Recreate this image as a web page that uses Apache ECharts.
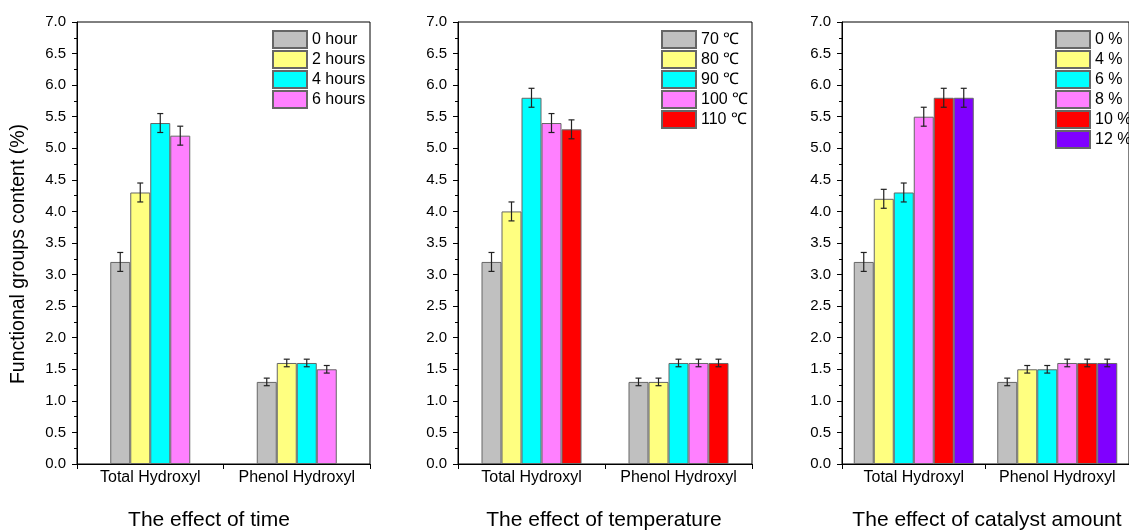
<!DOCTYPE html>
<html><head><meta charset="utf-8">
<script src="https://cdn.jsdelivr.net/npm/echarts@6/dist/echarts.min.js"></script>
<style>html,body{margin:0;padding:0;background:#fff}#c{width:1129px;height:531px}</style>
</head><body><div id="c"></div>
<script>
const categories = ['Total Hydroxyl', 'Phenol Hydroxyl'];
const yTicks = [0, 7, 0.5];

const timeNames = ['0 hour', '2 hours', '4 hours', '6 hours'];
const timeTotal = [3.2, 4.3, 5.4, 5.2];
const timePhenol = [1.3, 1.6, 1.6, 1.5];
const timeTotalErr = [0.15, 0.15, 0.15, 0.15];
const timePhenolErr = [0.06, 0.06, 0.06, 0.06];

const tempNames = ['70 ℃', '80 ℃', '90 ℃', '100 ℃', '110 ℃'];
const tempTotal = [3.2, 4.0, 5.8, 5.4, 5.3];
const tempPhenol = [1.3, 1.3, 1.6, 1.6, 1.6];
const tempTotalErr = [0.15, 0.15, 0.15, 0.15, 0.15];
const tempPhenolErr = [0.06, 0.06, 0.06, 0.06, 0.06];

const catNames = ['0 %', '4 %', '6 %', '8 %', '10 %', '12 %'];
const catTotal = [3.2, 4.2, 4.3, 5.5, 5.8, 5.8];
const catPhenol = [1.3, 1.5, 1.5, 1.6, 1.6, 1.6];
const catTotalErr = [0.15, 0.15, 0.15, 0.15, 0.15, 0.15];
const catPhenolErr = [0.06, 0.06, 0.06, 0.06, 0.06, 0.06];

const panelTitles = ['The effect of time', 'The effect of temperature', 'The effect of catalyst amount'];
const yTitle = 'Functional groups content (%)';
const colors = ['#c0c0c0', '#ffff80', '#00ffff', '#ff80ff', '#ff0000', '#8000ff'];

const FONT = 'Liberation Sans, Arial, sans-serif';
const BARW = 20;

const panels = [
  {names: timeNames, total: timeTotal, phenol: timePhenol, te: timeTotalErr, pe: timePhenolErr, left: 77, width: 293, legendLeft: 272, titleX: 209},
  {names: tempNames, total: tempTotal, phenol: tempPhenol, te: tempTotalErr, pe: tempPhenolErr, left: 458, width: 294, legendLeft: 661, titleX: 604},
  {names: catNames, total: catTotal, phenol: catPhenol, te: catTotalErr, pe: catPhenolErr, left: 842, width: 293, legendLeft: 1055, titleX: 987}
];

const grid = [], xAxis = [], yAxis = [], series = [], legend = [], graphic = [];
panels.forEach((p, k) => {
  grid.push({left: p.left, top: 22, width: p.width, height: 442, show: true, borderColor: '#000', borderWidth: 1, backgroundColor: 'transparent'});
  xAxis.push({type: 'category', gridIndex: k, data: categories,
    axisLine: {lineStyle: {color: '#000', width: 1}},
    axisTick: {show: true, alignWithLabel: false, length: 5, lineStyle: {color: '#000'}},
    axisLabel: {fontSize: 16, color: '#000', fontFamily: FONT, margin: 6, interval: 0, hideOverlap: false},
    splitLine: {show: false}});
  yAxis.push({type: 'value', gridIndex: k, min: yTicks[0], max: yTicks[1], interval: yTicks[2],
    axisLine: {show: true, lineStyle: {color: '#000', width: 1}},
    axisTick: {show: true, length: 5, lineStyle: {color: '#000'}},
    minorTick: {show: true, splitNumber: 2, length: 3, lineStyle: {color: '#000'}},
    axisLabel: {fontSize: 15, color: '#000', fontFamily: FONT, margin: 11, formatter: v => v.toFixed(1)},
    splitLine: {show: false}});
  p.names.forEach((nm, i) => {
    series.push({type: 'bar', name: nm, xAxisIndex: k, yAxisIndex: k, barWidth: BARW, barGap: '0%',
      data: [p.total[i], p.phenol[i]],
      itemStyle: {color: colors[i], borderColor: '#666', borderWidth: 1}});
  });
  const n = p.names.length;
  const errData = [];
  p.names.forEach((nm, i) => {
    errData.push([0, p.total[i], p.te[i], i]);
    errData.push([1, p.phenol[i], p.pe[i], i]);
  });
  series.push({type: 'custom', xAxisIndex: k, yAxisIndex: k, z: 5, silent: true,
    data: errData,
    renderItem: function (params, api) {
      const c = api.value(0), v = api.value(1), e = api.value(2), i = api.value(3);
      const base = api.coord([c, v]);
      const x = base[0] + (i - (n - 1) / 2) * BARW;
      const yt = api.coord([c, v + e])[1];
      const yb = api.coord([c, v - e])[1];
      const st = {stroke: '#222', lineWidth: 1.2};
      return {type: 'group', children: [
        {type: 'line', shape: {x1: x, y1: yt, x2: x, y2: yb}, style: st},
        {type: 'line', shape: {x1: x - 3, y1: yt, x2: x + 3, y2: yt}, style: st},
        {type: 'line', shape: {x1: x - 3, y1: yb, x2: x + 3, y2: yb}, style: st}
      ]};
    }});
  legend.push({data: p.names, orient: 'vertical', left: p.legendLeft, top: 30, padding: 0,
    itemWidth: 34, itemHeight: 17, itemGap: 1, icon: 'rect',
    textStyle: {fontSize: 16, lineHeight: 17, color: '#000', fontFamily: FONT}});
  graphic.push({type: 'text', x: p.titleX, y: 520,
    style: {text: panelTitles[k], fontSize: 21, fontFamily: FONT, fill: '#000', align: 'center', verticalAlign: 'middle'}});
});
graphic.push({type: 'text', x: 19, y: 254, rotation: Math.PI / 2,
  style: {text: yTitle, fontSize: 19.5, fontFamily: FONT, fill: '#000', align: 'center', verticalAlign: 'middle'}});

const chart = echarts.init(document.getElementById('c'), null, {renderer: 'canvas'});
chart.setOption({animation: false, backgroundColor: '#fff', grid, xAxis, yAxis, series, legend, graphic});
</script></body></html>
